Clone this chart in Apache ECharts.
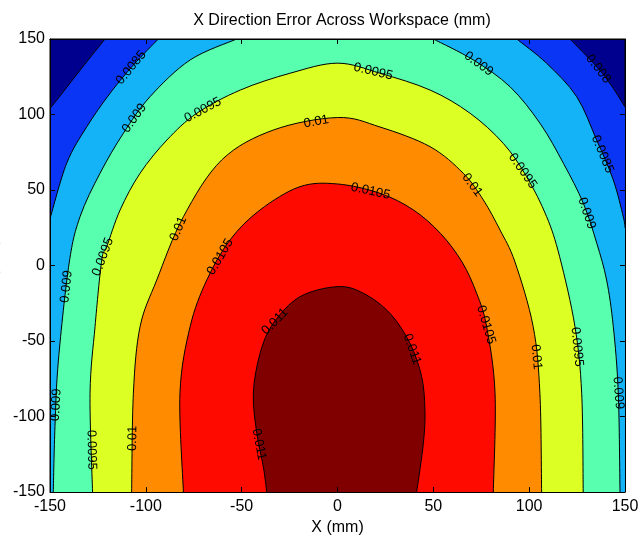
<!DOCTYPE html>
<html>
<head>
<meta charset="utf-8">
<script src="https://cdn.jsdelivr.net/npm/echarts@6/dist/echarts.min.js"></script>
<style>
html, body { margin: 0; padding: 0; background: #fff; }
#myChart { width: 641px; height: 538px; }
</style>
</head>
<body>
<div id="myChart"></div>
<script>
// contour levels and the tick values of both axes
var levels = [0.008, 0.0085, 0.009, 0.0095, 0.01, 0.0105, 0.011];
var axisTicks = [-150, -100, -50, 0, 50, 100, 150];

// contour lines, [x, y] in mm, one list per piece
var c0080 = [
    [[-150, 104], [-145.6, 110.9], [-133.4, 130.8], [-121.3, 150]],
    [[121.3, 150], [135.2, 131.7], [143, 119], [150, 105]]
];
var c0085 = [
    [[-150, 31], [-141.3, 67.7], [-130.8, 91.9], [-118.7, 114], [-106.5, 132.8], [-93.5, 150]],
    [[93.5, 150], [109.1, 133.9], [124.8, 111.8], [135.2, 83.1], [143.9, 56.6], [149.1, 32.3], [150, 25]]
];
var c0090 = [
    [[-148.3, -150], [-147.4, -106.6], [-145.6, -62.6], [-140, 1.7], [-134.3, 32.4], [-123.9, 61.1],
     [-111.7, 87.6], [-97.8, 111.8], [-76.9, 136.1], [-52.6, 150]],
    [[50, 150], [70.9, 136.1], [90, 118.4], [105.7, 94.1], [117.9, 67.6], [128.3, 41.1], [135.3, 14.6],
     [140.4, -9.6], [143.9, -40.5], [146.5, -84.6], [147.4, -150]]
];
var c0095 = [
    [[-127.8, -150], [-129.1, -84.6], [-126.5, -40.5], [-123, 3.6], [-120.4, 12.4], [-113.4, 36.8],
     [-103, 61.1], [-89, 83.1], [-73.3, 100.9], [-50.7, 116.2], [-24.8, 127.3], [0, 134], [22.2, 127.3],
     [48.3, 116.2], [69.1, 100.9], [86.5, 80.9], [98.7, 58.8], [109.1, 32.4], [115.9, 5.8],
     [123.9, -40.5], [127.4, -84.6], [128.2, -150]]
];
var c0100 = [
    [[-107.4, -150], [-106.5, -84.6], [-103, -40.5], [-94.3, -9.6], [-80.4, 32.3], [-60.4, 69.9],
     [-33.5, 89.7], [0, 98], [22.2, 91.7], [48.3, 78.7], [65.6, 61.1], [76.1, 43.4], [84.8, 23.5],
     [92.6, 2.3], [102.1, -40.5], [105.6, -84.6], [106.5, -150]]
];
var c0105 = [
    [[-80.4, -150], [-82.2, -84.6], [-76.9, -40.5], [-68.2, -9.6], [-56.1, 16.9], [-40.4, 36.8],
     [-19.6, 52.2], [0, 54], [22.2, 47.8], [39.6, 36.8], [53.7, 21.3], [65, 2.3], [72.6, -18.4],
     [77.8, -40.5], [82.2, -84.6], [81.3, -150]]
];
var c0110 = [
    [[-36.9, -150], [-38.7, -133.2], [-42.1, -111.1], [-43.9, -84.6], [-40.4, -58.2], [-33.5, -38.3],
     [-19.6, -20.7], [0, -14], [13.5, -18.4], [27.4, -31.7], [37.8, -51.5], [43.9, -73.6],
     [45.6, -95.7], [44.8, -117.7], [41.3, -150]]
];
var contours = [c0080, c0085, c0090, c0095, c0100, c0105, c0110];

// inline contour labels: [level index, x, y]
var labelPoints = [
    [0, 133.3, 127.5],
    [1, -106.2, 129.5], [1, 135.2, 72.1],
    [2, -104.7, 96.4], [2, 72.6, 131.7], [2, 130, 34.6], [2, -141.3, -14], [2, 144.8, -84.6], [2, -144.8, -92.4],
    [3, -70.2, 103], [3, 18.5, 127.5], [3, 95.2, 61.3], [3, -117.8, 3.6], [3, 125.6, -53.8], [3, -130.8, -122.2],
    [4, -10.9, 94.2], [4, 69.1, 52.2], [4, -85.7, 25.7], [4, 104.7, -60.4], [4, -111.7, -114.4],
    [5, 17, 47.8], [5, -61.3, 5.8], [5, 74.3, -40.5],
    [6, -31.7, -38.3], [6, 37.8, -56], [6, -47.4, -120]
];

// band colours, below first level then above each level
var bandColors = ['#00008f', '#0a35f5', '#14b2f7', '#57ffae', '#dcff24', '#ff8c00', '#ff0a00', '#800000'];
var fontName = '"Liberation Sans", Arial, sans-serif';

_initChart();

function _px(api, pts) {
    return pts.map(function (p) { return api.coord(p); });
}

// catmull-rom through the read points, as bezier path commands
function _curve(px) {
    var d = '';
    for (var i = 0; i < px.length - 1; i++) {
        var p0 = px[i - 1] || px[i], p1 = px[i], p2 = px[i + 1], p3 = px[i + 2] || px[i + 1];
        var c1x = p1[0] + (p2[0] - p0[0]) / 6, c1y = p1[1] + (p2[1] - p0[1]) / 6;
        var c2x = p2[0] - (p3[0] - p1[0]) / 6, c2y = p2[1] - (p3[1] - p1[1]) / 6;
        d += ' C' + c1x + ' ' + c1y + ' ' + c2x + ' ' + c2y + ' ' + p2[0] + ' ' + p2[1];
    }
    return d;
}

function _initChart() {
    var myChart = echarts.init(document.getElementById('myChart'));

    var option = {
        animation: false,
        title: {
            text: 'X Direction Error Across Workspace (mm)',
            left: 337, top: 8, textAlign: 'center',
            textStyle: { color: '#000', fontWeight: 'normal', fontSize: 16, fontFamily: fontName }
        },
        grid: {
            left: 50, right: 16, top: 39, bottom: 46,
            containLabel: false, outerBoundsMode: 'none',
            show: true, backgroundColor: bandColors[0], borderColor: '#000', borderWidth: 1
        },
        xAxis: [{
            type: 'value', min: axisTicks[0], max: axisTicks[axisTicks.length - 1], interval: 50,
            position: 'bottom', z: 10,
            axisLine: { onZero: false, lineStyle: { color: '#000', width: 1 } },
            axisTick: { inside: true, length: 5, lineStyle: { color: '#000' } },
            axisLabel: { color: '#000', fontSize: 16, fontFamily: fontName, margin: 7 },
            splitLine: { show: false },
            name: 'X (mm)', nameLocation: 'middle', nameGap: 27,
            nameTextStyle: { color: '#000', fontSize: 16, fontFamily: fontName }
        }, {
            type: 'value', min: axisTicks[0], max: axisTicks[axisTicks.length - 1], interval: 50,
            position: 'top', z: 10,
            axisLine: { onZero: false, lineStyle: { color: '#000', width: 1 } },
            axisTick: { inside: true, length: 5, lineStyle: { color: '#000' } },
            axisLabel: { show: false }, splitLine: { show: false }
        }],
        yAxis: [{
            type: 'value', min: axisTicks[0], max: axisTicks[axisTicks.length - 1], interval: 50,
            position: 'left', z: 10,
            axisLine: { onZero: false, lineStyle: { color: '#000', width: 1 } },
            axisTick: { inside: true, length: 5, lineStyle: { color: '#000' } },
            axisLabel: { color: '#000', fontSize: 16, fontFamily: fontName, margin: 5 },
            splitLine: { show: false },
            name: 'Y (mm)', nameLocation: 'middle', nameGap: 38,
            nameTextStyle: { color: '#ececec', fontSize: 16, fontFamily: fontName }
        }, {
            type: 'value', min: axisTicks[0], max: axisTicks[axisTicks.length - 1], interval: 50,
            position: 'right', z: 10,
            axisLine: { onZero: false, lineStyle: { color: '#000', width: 1 } },
            axisTick: { inside: true, length: 5, lineStyle: { color: '#000' } },
            axisLabel: { show: false }, splitLine: { show: false }
        }],
        series: [{
            // filled bands, each level drawn over the one below it
            type: 'custom',
            coordinateSystem: 'cartesian2d',
            xAxisIndex: 0, yAxisIndex: 0,
            clip: true,
            silent: true,
            encode: { x: 0, y: 1 },
            data: levels.map(function (l, i) { return [0, 0, i]; }),
            renderItem: function (params, api) {
                var k = api.value(2);
                var pieces = contours[k].map(function (pc) { return _px(api, pc); });
                var first = contours[k][0][0];
                var lastPc = contours[k][contours[k].length - 1];
                var last = lastPc[lastPc.length - 1];
                var s = api.coord([first[0], -150]);
                var e = api.coord([last[0], -150]);
                var fill = 'M' + s[0] + ' ' + s[1];
                var lines = [];
                pieces.forEach(function (px) {
                    fill += ' L' + px[0][0] + ' ' + px[0][1] + _curve(px);
                    lines.push({
                        type: 'path',
                        shape: { pathData: 'M' + px[0][0] + ' ' + px[0][1] + _curve(px) },
                        style: { fill: 'none', stroke: '#000', lineWidth: 1 }
                    });
                });
                fill += ' L' + e[0] + ' ' + e[1] + ' Z';
                return {
                    type: 'group',
                    children: [{
                        type: 'path',
                        shape: { pathData: fill },
                        style: { fill: bandColors[k + 1], stroke: null }
                    }].concat(lines)
                };
            },
            z: 2
        }, {
            // contour labels laid along the lines
            type: 'custom',
            coordinateSystem: 'cartesian2d',
            xAxisIndex: 0, yAxisIndex: 0,
            clip: true,
            silent: true,
            encode: { x: 1, y: 2 },
            data: labelPoints,
            renderItem: function (params, api) {
                var k = api.value(0);
                var p = api.coord([api.value(1), api.value(2)]);
                var best = null;
                contours[k].forEach(function (pc) {
                    var px = _px(api, pc);
                    for (var i = 0; i < px.length - 1; i++) {
                        var a = px[i], b = px[i + 1];
                        var dx = b[0] - a[0], dy = b[1] - a[1];
                        var t = ((p[0] - a[0]) * dx + (p[1] - a[1]) * dy) / (dx * dx + dy * dy);
                        t = Math.max(0, Math.min(1, t));
                        var qx = a[0] + t * dx, qy = a[1] + t * dy;
                        var dd = (qx - p[0]) * (qx - p[0]) + (qy - p[1]) * (qy - p[1]);
                        if (!best || dd < best.d) best = { d: dd, x: qx, y: qy, dx: dx, dy: dy };
                    }
                });
                var ang = Math.atan2(-best.dy, best.dx);
                if (ang > Math.PI / 2) ang -= Math.PI;
                if (ang <= -Math.PI / 2) ang += Math.PI;
                return {
                    type: 'text',
                    x: best.x, y: best.y,
                    rotation: ang,
                    style: {
                        text: String(levels[k]),
                        fill: '#000',
                        fontSize: 13,
                        fontFamily: fontName,
                        align: 'center',
                        verticalAlign: 'middle'
                    }
                };
            },
            z: 5
        }]
    };
    myChart.setOption(option);
    window.addEventListener('resize', function () {
        myChart.resize();
    });
}
</script>
</body>
</html>
